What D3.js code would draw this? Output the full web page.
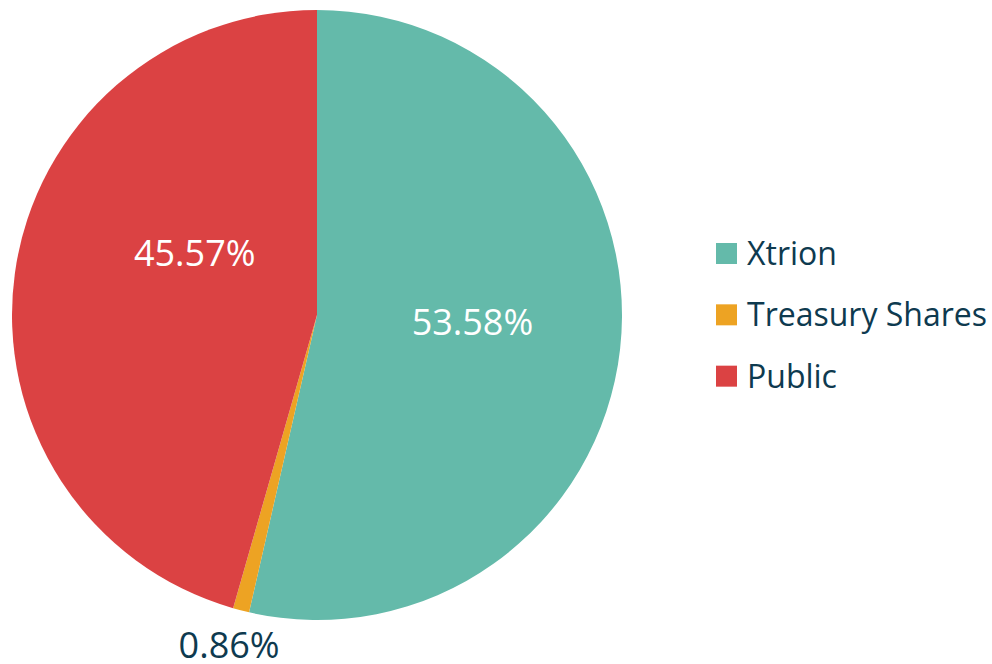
<!DOCTYPE html>
<html lang="en">
<head>
<meta charset="UTF-8">
<title>Shareholding</title>
<style>
html, body { margin: 0; padding: 0; background: #fff; }
body { font-family: 'Open Sans', sans-serif; }
</style>
</head>
<body>
<svg width="992" height="664"></svg>
<script src="https://cdnjs.cloudflare.com/ajax/libs/d3/7.8.5/d3.min.js"></script>
<script>
const categories = ['Xtrion', 'Treasury Shares', 'Public'];
const shares = [53.58, 0.86, 45.57];
const colors = ['#64BAAA', '#EDA323', '#DB4243'];

var svg = d3.select('svg');
var cx = 317, cy = 315, radius = 305;

var data = categories.map(function (c, i) {
  return { name: c, value: shares[i], color: colors[i] };
});

var pie = d3.pie().sort(null).value(function (d) { return d.value; });
var arc = d3.arc().innerRadius(0).outerRadius(radius);

var g = svg.append('g').attr('transform', 'translate(' + cx + ',' + cy + ')');

var arcs = pie(data);

g.selectAll('path')
  .data(arcs)
  .enter()
  .append('path')
  .attr('d', arc)
  .attr('fill', function (d) { return d.data.color; });

// label placement: radius factor and angular nudge (degrees), Excel best-fit look
var labelLayout = [
  { r: 0.51, shift: -4, fill: '#fff' },
  { r: 1.12, shift: 0.5, fill: '#0E3A4F' },
  { r: 0.45, shift: 19, fill: '#fff' }
];

g.selectAll('text.lbl')
  .data(arcs)
  .enter()
  .append('text')
  .attr('class', 'lbl')
  .attr('x', function (d, i) {
    var a = (d.startAngle + d.endAngle) / 2 + labelLayout[i].shift * Math.PI / 180;
    return Math.sin(a) * radius * labelLayout[i].r;
  })
  .attr('y', function (d, i) {
    var a = (d.startAngle + d.endAngle) / 2 + labelLayout[i].shift * Math.PI / 180;
    return -Math.cos(a) * radius * labelLayout[i].r;
  })
  .attr('dy', '0.36em')
  .attr('text-anchor', 'middle')
  .attr('font-size', 36)
  .attr('fill', function (d, i) { return labelLayout[i].fill; })
  .text(function (d) { return d3.format('.2f')(d.data.value) + '%'; });

var legend = svg.append('g').attr('transform', 'translate(716,243)');

var row = d3.scaleBand().domain(categories).range([0, 184]);

var item = legend.selectAll('g')
  .data(data)
  .enter()
  .append('g')
  .attr('transform', function (d) { return 'translate(0,' + row(d.name) + ')'; });

item.append('rect')
  .attr('width', 21)
  .attr('height', 21)
  .attr('fill', function (d) { return d.color; });

item.append('text')
  .attr('x', 31)
  .attr('y', 10.5)
  .attr('dy', '0.36em')
  .attr('font-size', 32)
  .attr('fill', '#0E3A4F')
  .text(function (d) { return d.name; });
</script>
</body>
</html>
